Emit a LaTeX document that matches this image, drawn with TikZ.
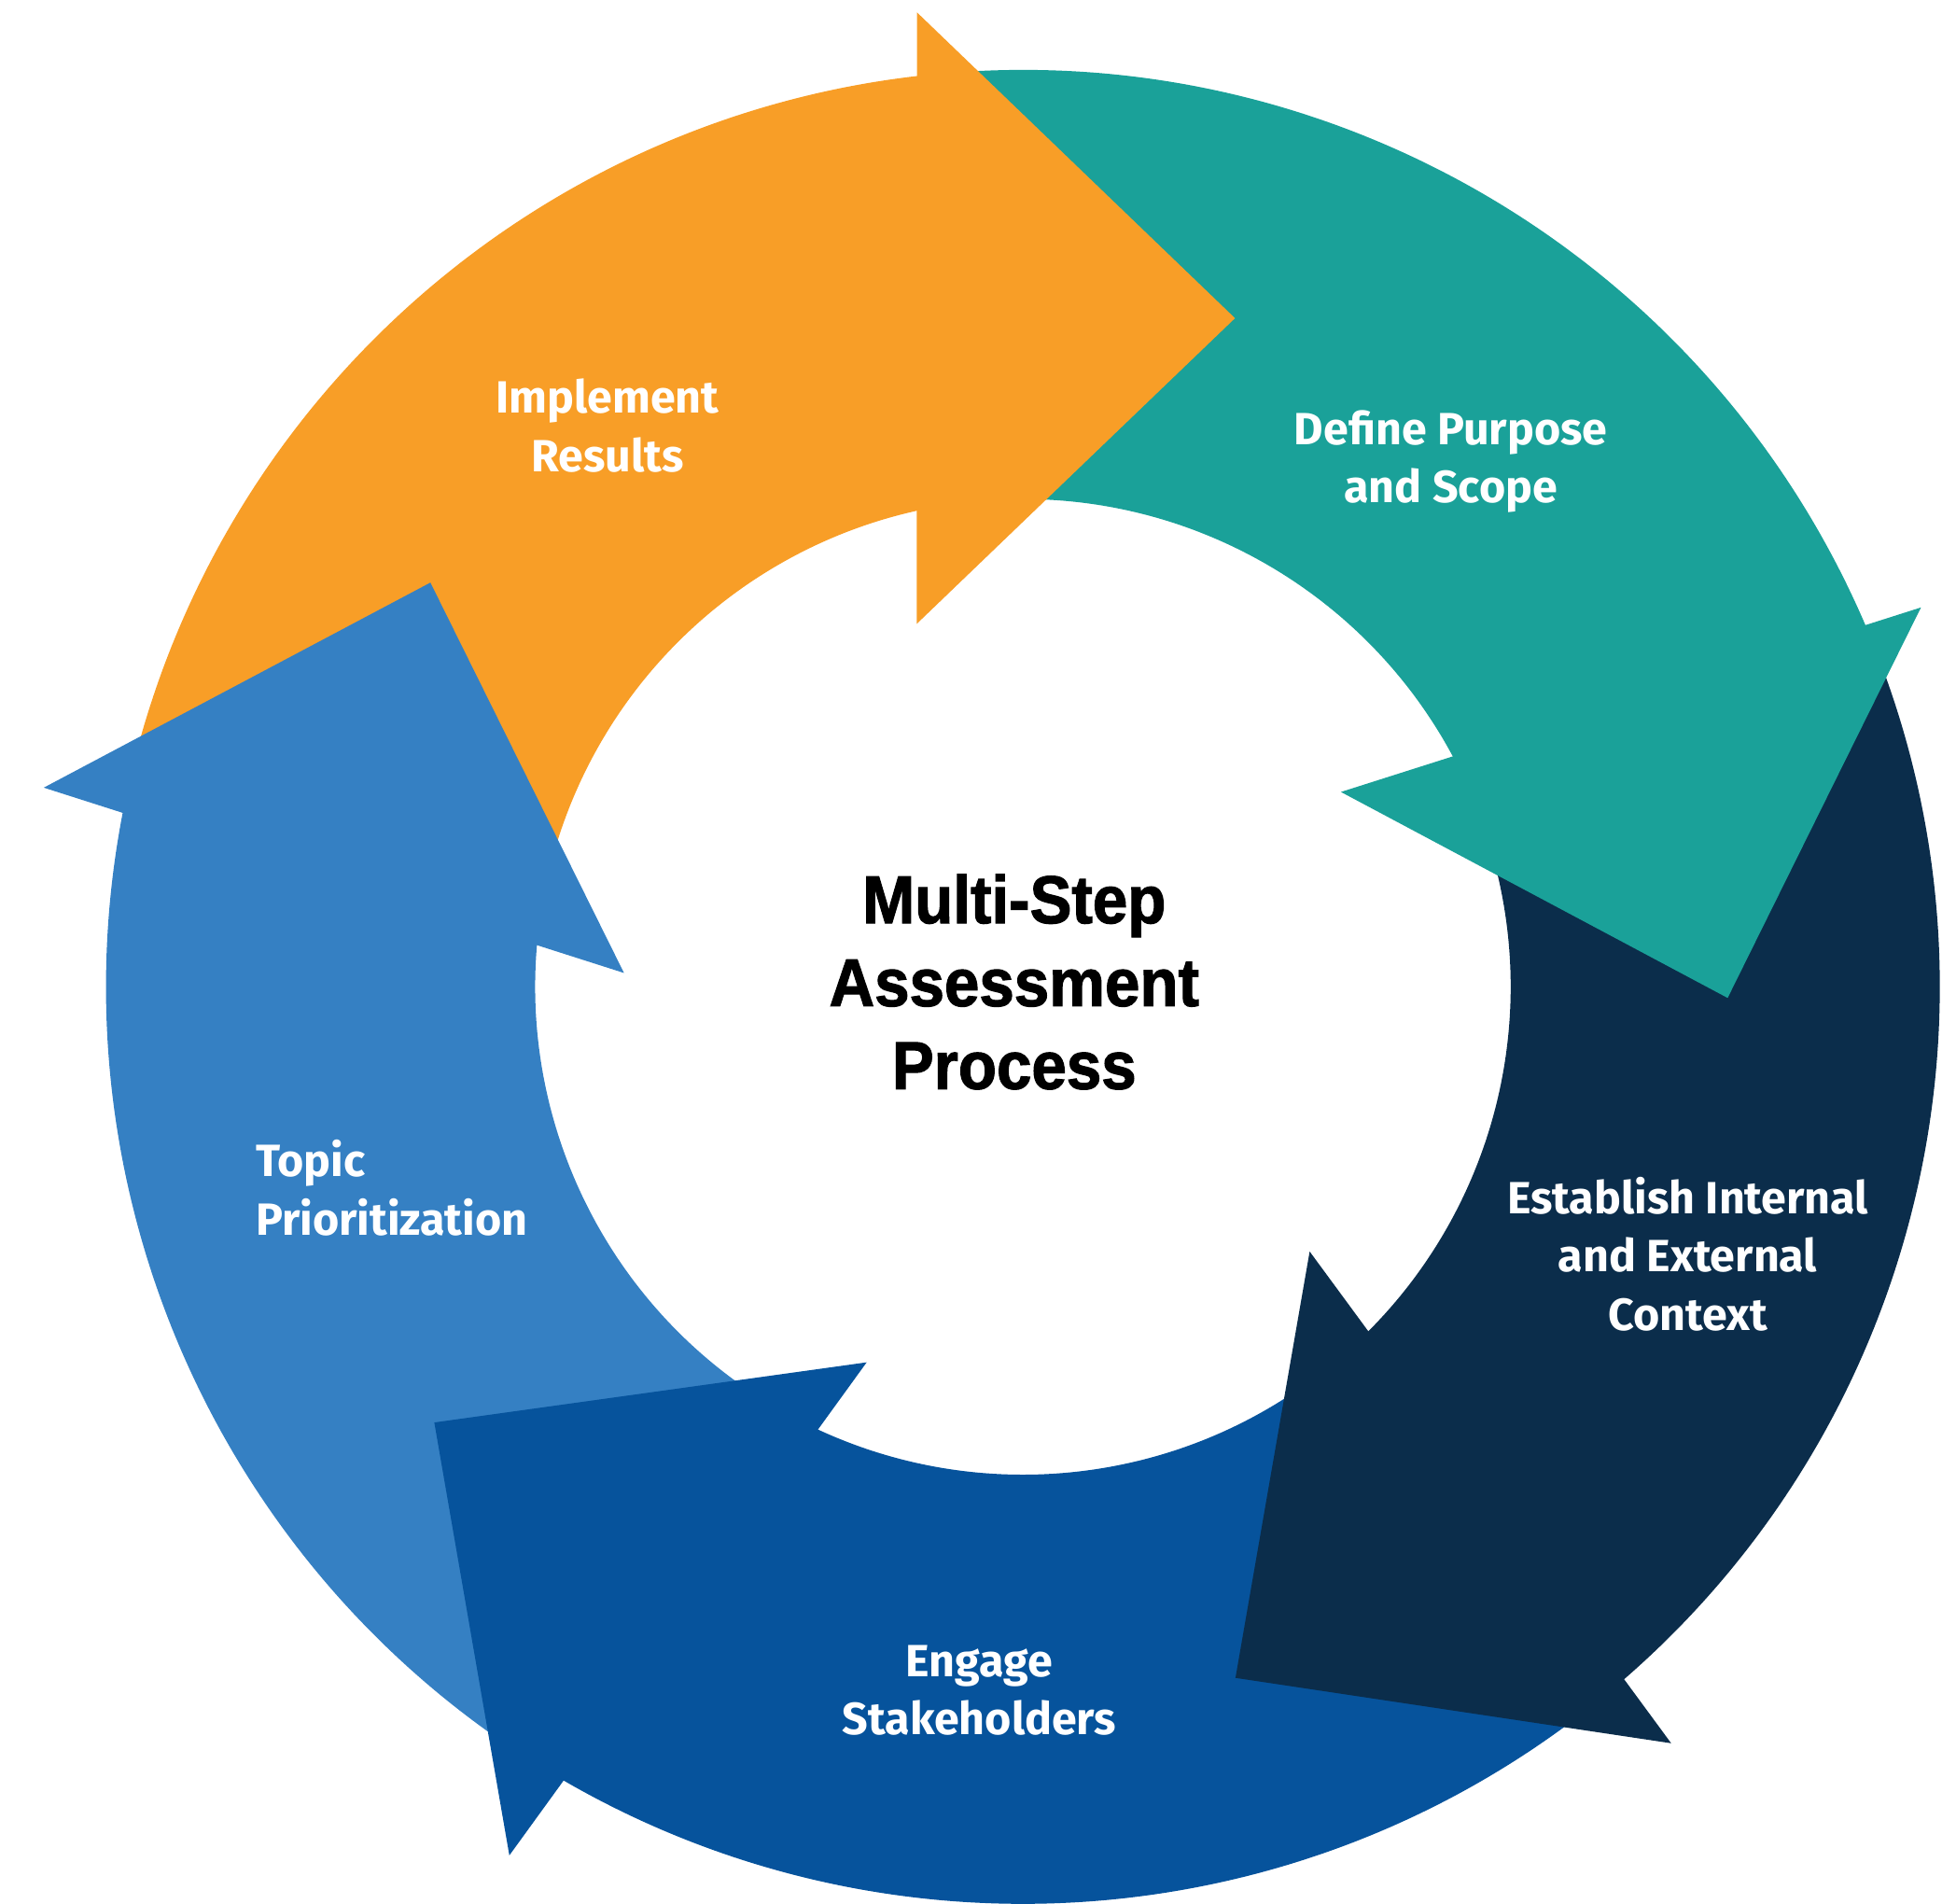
\documentclass[tikz,border=0pt]{standalone}
\usepackage{fontspec}
\setmainfont{Fira Sans}
\newfontfamily\hubfont{Liberation Sans}[FakeStretch=0.93, BoldFeatures={FakeBold=1.6}]
\usepackage{tikz}

\definecolor{implorange}{HTML}{F89E27}
\definecolor{scopeteal}{HTML}{1AA199}
\definecolor{contextnavy}{HTML}{0B2D4B}
\definecolor{engageblue}{HTML}{06539C}
\definecolor{topicblue}{HTML}{3580C3}

\tikzset{
  steplabel/.style={text=white, align=center, inner sep=0pt, font=\fontsize{10.3}{13.3}\selectfont\bfseries},
  hubtext/.style={text=black, align=center, inner sep=0pt, font=\hubfont\fontsize{15.4}{18.9}\selectfont\bfseries}
}

\begin{document}
\begin{tikzpicture}
\useasboundingbox (0,0) rectangle (15.68,15.26);
\coordinate (ctr) at (8.20,7.35);
\fill[implorange] ([shift={(ctr)}]167:7.35) arc[start angle=167, end angle=94.7, radius=7.35cm] -- ([shift={(ctr)}]94.7:3.91) arc[start angle=94.7, end angle=167, radius=3.91cm] -- cycle;
\fill[scopeteal] ([shift={(ctr)}]94.7:7.35) arc[start angle=94.7, end angle=21.4, radius=7.35cm] -- ([shift={(ctr)}]21.4:3.91) arc[start angle=21.4, end angle=94.7, radius=3.91cm] -- cycle;
\fill[contextnavy] ([shift={(ctr)}]21.4:7.35) arc[start angle=21.4, end angle=-50.9, radius=7.35cm] -- ([shift={(ctr)}]-50.9:3.91) arc[start angle=-50.9, end angle=21.4, radius=3.91cm] -- cycle;
\fill[engageblue] ([shift={(ctr)}]-50.9:7.35) arc[start angle=-50.9, end angle=-122.1, radius=7.35cm] -- ([shift={(ctr)}]-122.1:3.91) arc[start angle=-122.1, end angle=-50.9, radius=3.91cm] -- cycle;
\fill[topicblue] ([shift={(ctr)}]-122.1:7.35) arc[start angle=-122.1, end angle=-193, radius=7.35cm] -- ([shift={(ctr)}]-193:3.91) arc[start angle=-193, end angle=-122.1, radius=3.91cm] -- cycle;
\fill[implorange] ([shift={(ctr)}]96.2:7.856) -- ([shift={(ctr)}]72.4:5.623) -- ([shift={(ctr)}]106.3:3.032) -- cycle;
\fill[scopeteal] ([shift={(ctr)}]22.9:7.815) -- ([shift={(ctr)}]-0.9:5.65) -- ([shift={(ctr)}]31.5:2.99) -- cycle;
\fill[contextnavy] ([shift={(ctr)}]-49.4:7.985) -- ([shift={(ctr)}]-72.9:5.795) -- ([shift={(ctr)}]-42.7:3.128) -- cycle;
\fill[engageblue] ([shift={(ctr)}]-120.6:8.088) -- ([shift={(ctr)}]-143.5:5.87) -- ([shift={(ctr)}]-112.6:3.26) -- cycle;
\fill[topicblue] ([shift={(ctr)}]168.5:8.01) -- ([shift={(ctr)}]145.7:5.75) -- ([shift={(ctr)}]178:3.20) -- cycle;
\node[hubtext] (hub) at (8.13,7.39) {Multi-Step\\Assessment\\Process};
\node[steplabel] (impl) at (4.87,11.85) {Implement\\Results};
\node[steplabel] (purpose) at (11.63,11.56) {Define Purpose\\and Scope};
\node[steplabel] (context) at (13.53,5.21) {Establish Internal\\and External\\Context};
\node[steplabel] (engage) at (7.85,1.71) {Engage\\Stakeholders};
\node[steplabel, align=left] (topic) at (3.14,5.74) {Topic\\Prioritization};
\end{tikzpicture}
\end{document}
